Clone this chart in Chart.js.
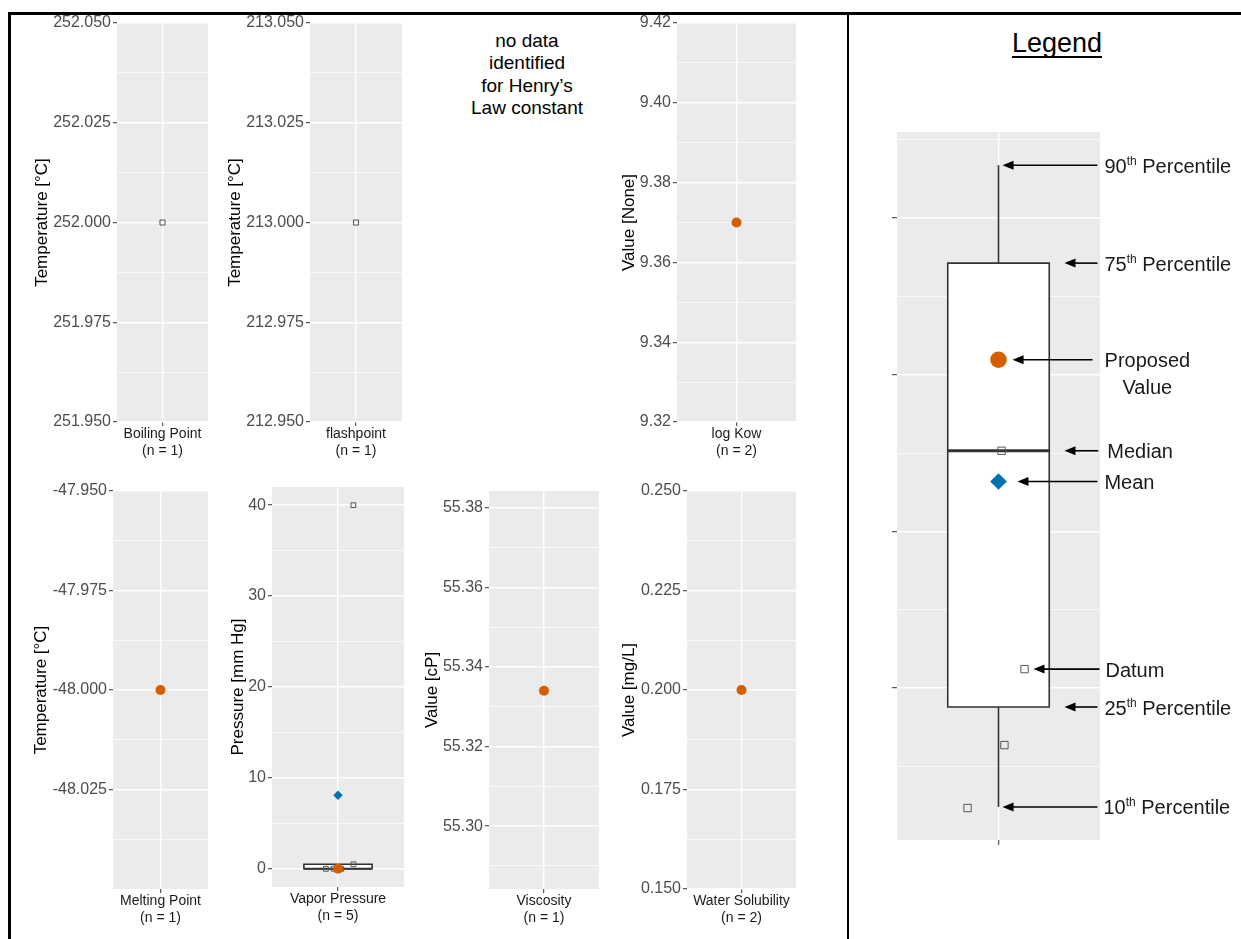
<!DOCTYPE html>
<html>
<head>
<meta charset="utf-8">
<script src="https://cdn.jsdelivr.net/npm/chart.js@4.4.1/dist/chart.umd.min.js"></script>
<style>
  html, body { margin:0; padding:0; background:#fff; }
  #wrap { position:relative; width:1241px; height:939px; overflow:hidden; background:#fff;
          font-family:"Liberation Sans", Arial, Helvetica, sans-serif; }
  .box { position:absolute; }
  .rule { position:absolute; background:#000; }
  #henry { position:absolute; left:417px; top:30px; width:220px; text-align:center; font-size:19px; line-height:22.3px; color:#000; }
  #legendTitle { position:absolute; left:977px; top:27px; width:160px; text-align:center; font-size:27px; line-height:32px; color:#000;
                 text-decoration:underline; text-decoration-thickness:1.5px; text-underline-offset:4px; text-decoration-skip-ink:none; }
  .lbl { position:absolute; font-size:20px; line-height:24px; color:#1a1a1a; white-space:nowrap; }
  .lbl.two { text-align:center; line-height:26.5px; }
  .lbl sup { font-size:12px; line-height:0; vertical-align:super; }
</style>
</head>
<body>
<div id="wrap">
  <div class="rule" style="left:8px;top:12px;width:1233px;height:3px;"></div>
  <div class="rule" style="left:8px;top:12px;width:3px;height:927px;"></div>
  <div class="rule" style="left:847px;top:12px;width:2px;height:927px;"></div>
  <div id="henry">no data<br>identified<br>for Henry’s<br>Law constant</div>
  <div id="legendTitle">Legend</div>
</div>
<script>
// ---------------- data ----------------
const categories  = ['Boiling Point', 'flashpoint', 'log Kow', 'Melting Point', 'Vapor Pressure', 'Viscosity', 'Water Solubility'];
const sampleSizes = [1, 1, 2, 1, 5, 1, 2];
const yTitles     = ['Temperature [°C]', 'Temperature [°C]', 'Value [None]', 'Temperature [°C]', 'Pressure [mm Hg]', 'Value [cP]', 'Value [mg/L]'];

const boilingData = [252.0];
const flashData = [213.0];
const logKowData = [9.37, 9.37];
const logKowProposed = [9.37];
const meltingData = [-48.0];
const meltingProposed = [-48.0];
const vaporData = [0.0, 0.002, 0.01, 0.5, 40.0];
const vaporJitter = [-0.11, 0.03, -0.04, 0.14, 0.14];
const vaporProposed = [0.0];
const vaporMean = [8.1];
const vaporBox = [0.002, 0.01, 0.5];            // q1, median, q3
const viscosityData = [55.334];
const viscosityProposed = [55.334];
const waterData = [0.2, 0.2];
const waterProposed = [0.2];

// axis ranges and tick values
const boilingRange = [251.95, 252.05];
const boilingTicks = [251.95, 251.975, 252.0, 252.025, 252.05];
const boilingMinor = [251.9625, 251.9875, 252.0125, 252.0375];
const flashRange = [212.95, 213.05];
const flashTicks = [212.95, 212.975, 213.0, 213.025, 213.05];
const flashMinor = [212.9625, 212.9875, 213.0125, 213.0375];
const logKowRange = [9.32, 9.42];
const logKowTicks = [9.32, 9.34, 9.36, 9.38, 9.40, 9.42];
const logKowMinor = [9.33, 9.35, 9.37, 9.39, 9.41];
const meltingRange = [-48.05, -47.95];
const meltingTicks = [-48.025, -48.0, -47.975, -47.95];
const meltingMinor = [-48.0375, -48.0125, -47.9875, -47.9625];
const vaporRange = [-2.0, 42.0];
const vaporTicks = [0, 10, 20, 30, 40];
const vaporMinor = [5, 15, 25, 35];
const viscosityRange = [55.2842, 55.3842];
const viscosityTicks = [55.30, 55.32, 55.34, 55.36, 55.38];
const viscosityMinor = [55.29, 55.31, 55.33, 55.35, 55.37];
const waterRange = [0.15, 0.25];
const waterTicks = [0.15, 0.175, 0.2, 0.225, 0.25];
const waterMinor = [0.1625, 0.1875, 0.2125, 0.2375];

// legend example
const legendRange = [0.03, 4.55];
const legendTicks = [1, 2, 3, 4];
const legendMinor = [0.5, 1.5, 2.5, 3.5, 4.5];
const legendBoxStats = [0.241, 0.879, 2.515, 3.713, 4.338];   // p10, q1, median, q3, p90
const legendMean = [2.319];
const legendProposed = [3.096];
const legendData = [2.515, 1.121, 0.636, 0.234];
const legendJitter = [0.018, 0.154, 0.035, -0.183];
const legendLabelText = ['90th Percentile', '75th Percentile', 'Proposed\nValue', 'Median', 'Mean', 'Datum', '25th Percentile', '10th Percentile'];
const legendArrowValues = [legendBoxStats[4], legendBoxStats[3], legendProposed[0], legendBoxStats[2], legendMean[0], legendData[1], legendBoxStats[1], legendBoxStats[0]];

// ---------------- layout ----------------
const arrowHeadX = [0.024, 0.39, 0.083, 0.39, 0.112, 0.207, 0.39, 0.024];
const arrowTailX = [0.585, 0.585, 0.556, 0.59, 0.585, 0.597, 0.585, 0.585];
const labelGap   = [7, 7, 12, 9, 7, 6, 7, 6];
const FONT = '"Liberation Sans", Arial, Helvetica, sans-serif';
Chart.defaults.font.family = FONT;
const wrap = document.getElementById('wrap');
const ORANGE = '#D55E00', BLUE = '#0072B2', PANEL = '#EBEBEB';

const panelBg = {
  id: 'panelBg',
  beforeDraw(chart) {
    const a = chart.chartArea, ctx = chart.ctx;
    ctx.save(); ctx.fillStyle = PANEL;
    ctx.fillRect(a.left, a.top, a.right - a.left, a.bottom - a.top);
    ctx.restore();
  }
};

function tickObjs(major, minor) {
  const t = major.map(v => ({value: v, isMinor: false})).concat(minor.map(v => ({value: v, isMinor: true})));
  t.sort((a, b) => a.value - b.value);
  return t;
}
function isMinorCtx(c) { return c.tick && c.tick.isMinor; }

function datumSet(vals, jit, r) {
  return { type: 'scatter', data: vals.map((v, i) => ({x: jit ? jit[i] : 0, y: v})),
    pointStyle: 'rect', pointRadius: r, pointHoverRadius: r, pointBackgroundColor: 'rgba(0,0,0,0)',
    pointBorderColor: '#555', pointBorderWidth: 1, pointHoverBorderWidth: 1, showLine: false, order: 3 };
}
function proposedSet(vals, r) {
  return { type: 'scatter', data: vals.map(v => ({x: 0, y: v})), pointStyle: 'circle', pointRadius: r, pointHoverRadius: r,
    pointBackgroundColor: ORANGE, pointBorderColor: ORANGE, pointBorderWidth: 0, showLine: false, order: 1 };
}
function meanSet(vals, r) {
  return { type: 'scatter', data: vals.map(v => ({x: 0, y: v})), pointStyle: 'rectRot', pointRadius: r, pointHoverRadius: r,
    pointBackgroundColor: BLUE, pointBorderColor: BLUE, pointBorderWidth: 0, showLine: false, order: 2 };
}
function lineSet(pts, w, order) {
  return { type: 'line', data: pts, borderColor: '#333', borderWidth: w, pointRadius: 0, pointHoverRadius: 0,
    fill: false, borderJoinStyle: 'miter', tension: 0, order: order };
}
function boxSets(q1, med, q3, hw, lw, mw) {
  return [
    { type: 'line', data: [{x: -hw, y: q3}, {x: hw, y: q3}], fill: {value: q1}, backgroundColor: '#fff',
      borderColor: 'rgba(0,0,0,0)', borderWidth: 1, pointRadius: 0, pointHoverRadius: 0, order: 20 },
    lineSet([{x: 0, y: q1}, {x: hw, y: q1}, {x: hw, y: q3}, {x: -hw, y: q3}, {x: -hw, y: q1}, {x: 0, y: q1}], lw, 19),
    lineSet([{x: -hw, y: med}, {x: hw, y: med}], mw, 18)
  ];
}

function yScaleCfg(range, major, minor, dec, title, axisW, opts) {
  opts = opts || {};
  return {
    type: 'linear', min: range[0], max: range[1],
    afterBuildTicks: s => { s.ticks = tickObjs(major, minor); },
    afterFit: s => { s.width = axisW; },
    ticks: { autoSkip: false, padding: 2, color: '#4D4D4D', font: {size: 16},
      callback: (v, i, t) => (opts.noLabels || t[i].isMinor) ? '' : Number(v).toFixed(dec) },
    grid: { color: '#fff', lineWidth: c => isMinorCtx(c) ? 0.7 : 1.4,
      tickColor: c => isMinorCtx(c) ? 'rgba(0,0,0,0)' : '#333', tickLength: opts.tickLength || 4, tickWidth: 1, drawTicks: true },
    border: { display: false },
    title: { display: !!title, text: title || '', color: '#000', font: {size: 17}, padding: {top: 1.8, bottom: 0} }
  };
}
function xScaleCfg(label, xAxisH, tickLen) {
  return {
    type: 'linear', min: -0.6, max: 0.6,
    afterBuildTicks: s => { s.ticks = [{value: 0}]; },
    afterFit: s => { s.height = xAxisH; },
    ticks: { autoSkip: false, maxRotation: 0, padding: 0, color: '#1a1a1a', font: {size: 14},
      callback: () => label },
    grid: { color: '#fff', lineWidth: 1.4, tickColor: '#333', tickLength: tickLen || 4, tickWidth: 1 },
    border: { display: false }
  };
}

function makeChart(left, top, W, H, padding, scales, datasets, plugins) {
  const div = document.createElement('div');
  div.className = 'box';
  div.style.left = left + 'px'; div.style.top = top + 'px';
  div.style.width = W + 'px'; div.style.height = H + 'px';
  const cv = document.createElement('canvas');
  cv.width = W; cv.height = H; cv.style.width = W + 'px'; cv.style.height = H + 'px';
  div.appendChild(cv); wrap.appendChild(div);
  return new Chart(cv, {
    type: 'scatter',
    data: { datasets: datasets },
    options: {
      responsive: false, animation: false, devicePixelRatio: 1, events: [],
      layout: { padding: padding },
      plugins: { legend: { display: false }, tooltip: { enabled: false } },
      scales: scales
    },
    plugins: [panelBg].concat(plugins || [])
  });
}

function makePanel(g, idx, range, major, minor, dec, datasets) {
  const padTop = 12, padRight = 12, xAxisH = 50;
  const left = g.tx - 12;
  const axisW = g.L - left;
  const W = axisW + (g.R - g.L) + padRight;
  const H = padTop + (g.B - g.T) + xAxisH;
  return makeChart(left, g.T - padTop, W, H, {top: padTop, right: padRight, bottom: 0, left: 0}, {
    x: xScaleCfg([categories[idx], '(n = ' + sampleSizes[idx] + ')'], xAxisH),
    y: yScaleCfg(range, major, minor, dec, yTitles[idx], axisW)
  }, datasets);
}

// panel geometry (plot-area edges and y-title centre, px)
const geom = [
  {L: 117, R: 208, T: 23,  B: 422, tx: 42},
  {L: 310, R: 402, T: 23,  B: 422, tx: 235},
  {L: 677, R: 796, T: 23,  B: 422, tx: 629},
  {L: 113, R: 208, T: 491, B: 889, tx: 41},
  {L: 272, R: 404, T: 487, B: 887, tx: 238},
  {L: 489, R: 599, T: 491, B: 889, tx: 432},
  {L: 687, R: 796, T: 491, B: 889, tx: 629}
];

makePanel(geom[0], 0, boilingRange, boilingTicks, boilingMinor, 3, [datumSet(boilingData, null, 3.6)]);
makePanel(geom[1], 1, flashRange, flashTicks, flashMinor, 3, [datumSet(flashData, null, 3.6)]);
makePanel(geom[2], 2, logKowRange, logKowTicks, logKowMinor, 2, [proposedSet(logKowProposed, 5), datumSet(logKowData, null, 3.4)]);
makePanel(geom[3], 3, meltingRange, meltingTicks, meltingMinor, 3, [proposedSet(meltingProposed, 5), datumSet(meltingData, null, 3.4)]);
makePanel(geom[4], 4, vaporRange, vaporTicks, vaporMinor, 0,
  [proposedSet(vaporProposed, 5), meanSet(vaporMean, 4.7), datumSet(vaporData, vaporJitter, 3.4)]
    .concat(boxSets(vaporBox[0], vaporBox[1], vaporBox[2], 0.31, 1.6, 2)));
makePanel(geom[5], 5, viscosityRange, viscosityTicks, viscosityMinor, 2, [proposedSet(viscosityProposed, 5), datumSet(viscosityData, null, 3.4)]);
makePanel(geom[6], 6, waterRange, waterTicks, waterMinor, 3, [proposedSet(waterProposed, 5), datumSet(waterData, null, 3.4)]);

// ---------------- legend panel ----------------
const arrowPlugin = {
  id: 'legendArrows',
  afterDatasetsDraw(chart) {
    const ctx = chart.ctx, xs = chart.scales.x, ys = chart.scales.y;
    ctx.save();
    ctx.strokeStyle = '#000'; ctx.fillStyle = '#000'; ctx.lineWidth = 1.6;
    legendArrowValues.forEach((v, i) => {
      const yp = ys.getPixelForValue(v);
      const xt = xs.getPixelForValue(arrowTailX[i]);
      const xh = xs.getPixelForValue(arrowHeadX[i]);
      ctx.beginPath(); ctx.moveTo(xt, yp); ctx.lineTo(xh + 8, yp); ctx.stroke();
      ctx.beginPath(); ctx.moveTo(xh, yp); ctx.lineTo(xh + 11, yp - 4.5); ctx.lineTo(xh + 11, yp + 4.5); ctx.closePath(); ctx.fill();
    });
    ctx.restore();
  }
};

const LG = {L: 897, R: 1100, T: 132, B: 840};
const lgLeft = LG.L - 20, lgTop = LG.T - 12;
const lgW = 20 + (LG.R - LG.L) + 141, lgH = 12 + (LG.B - LG.T) + 20;
const lgChart = makeChart(lgLeft, lgTop, lgW, lgH, {top: 12, right: 141, bottom: 0, left: 0}, {
    x: xScaleCfg('', 20, 5),
    y: yScaleCfg(legendRange, legendTicks, legendMinor, 0, '', 20, {noLabels: true, tickLength: 5})
  }, [
    proposedSet(legendProposed, 8.3),
    meanSet(legendMean, 8.3),
    datumSet(legendData, legendJitter, 5.2),
    lineSet([{x: 0, y: legendBoxStats[3]}, {x: 0, y: legendBoxStats[4]}], 1.6, 21),
    lineSet([{x: 0, y: legendBoxStats[0]}, {x: 0, y: legendBoxStats[1]}], 1.6, 21)
  ].concat(boxSets(legendBoxStats[1], legendBoxStats[2], legendBoxStats[3], 0.30, 1.6, 2.8)),
  [arrowPlugin]);

// legend text labels placed from the chart's scales
(function placeLabels() {
  const xs = lgChart.scales.x, ys = lgChart.scales.y;
  legendLabelText.forEach((txt, i) => {
    const yp = ys.getPixelForValue(legendArrowValues[i]) + lgTop;
    const xp = xs.getPixelForValue(arrowTailX[i]) + lgLeft;
    const d = document.createElement('div');
    const two = txt.indexOf('\n') >= 0;
    d.className = 'lbl' + (two ? ' two' : '');
    d.innerHTML = txt.replace(/(\d+)th/, '$1<sup>th</sup>').replace('\n', '<br>');
    d.style.left = (xp + labelGap[i]) + 'px';
    d.style.top = (yp - (two ? 12.5 : 11.5)) + 'px';
    wrap.appendChild(d);
  });
})();
</script>
</body>
</html>
